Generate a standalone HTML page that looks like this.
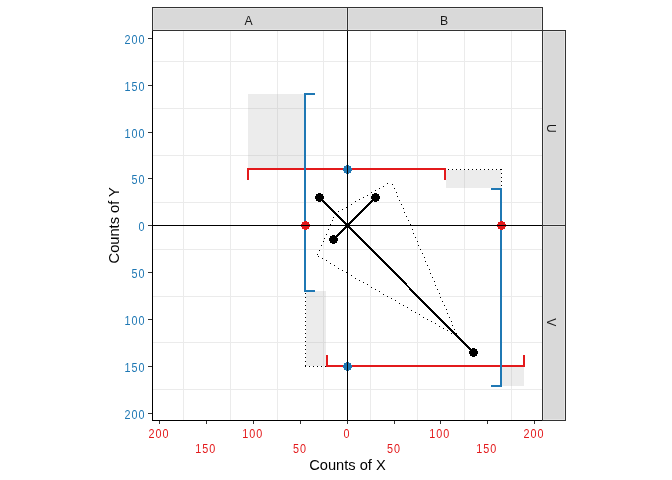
<!DOCTYPE html>
<html><head><meta charset="utf-8"><style>
html,body{margin:0;padding:0;background:#fff;width:672px;height:480px;overflow:hidden}
svg{display:block;will-change:transform;font-family:"Liberation Sans", sans-serif}
</style></head><body>
<svg width="672" height="480" viewBox="0 0 672 480" shape-rendering="crispEdges">
<rect width="672" height="480" fill="#fff"/>
<rect x="183" y="31" width="1" height="389" fill="#EBEBEB"/>
<rect x="230" y="31" width="1" height="389" fill="#EBEBEB"/>
<rect x="277" y="31" width="1" height="389" fill="#EBEBEB"/>
<rect x="323" y="31" width="1" height="389" fill="#EBEBEB"/>
<rect x="370" y="31" width="1" height="389" fill="#EBEBEB"/>
<rect x="417" y="31" width="1" height="389" fill="#EBEBEB"/>
<rect x="464" y="31" width="1" height="389" fill="#EBEBEB"/>
<rect x="511" y="31" width="1" height="389" fill="#EBEBEB"/>
<rect x="153" y="61" width="389" height="1" fill="#EBEBEB"/>
<rect x="153" y="108" width="389" height="1" fill="#EBEBEB"/>
<rect x="153" y="155" width="389" height="1" fill="#EBEBEB"/>
<rect x="153" y="202" width="389" height="1" fill="#EBEBEB"/>
<rect x="153" y="249" width="389" height="1" fill="#EBEBEB"/>
<rect x="153" y="296" width="389" height="1" fill="#EBEBEB"/>
<rect x="153" y="342" width="389" height="1" fill="#EBEBEB"/>
<rect x="153" y="389" width="389" height="1" fill="#EBEBEB"/>
<rect x="248" y="94" width="56" height="74" fill="rgba(160,160,160,0.2)"/>
<rect x="446" y="170" width="55" height="18" fill="rgba(160,160,160,0.2)"/>
<rect x="306" y="291" width="20" height="75" fill="rgba(160,160,160,0.2)"/>
<rect x="502" y="367" width="22" height="19" fill="rgba(160,160,160,0.2)"/>
<path d="M448 169h1v1h-1z M452 169h1v1h-1z M456 169h1v1h-1z M460 169h1v1h-1z M464 169h1v1h-1z M468 169h1v1h-1z M472 169h1v1h-1z M476 169h1v1h-1z M480 169h1v1h-1z M484 169h1v1h-1z M488 169h1v1h-1z M492 169h1v1h-1z M496 169h1v1h-1z M500 169h2v1h-2z M501 173h1v1h-1z M501 177h1v1h-1z M501 181h1v1h-1z M501 185h1v1h-1z M305 293h1v1h-1z M305 297h1v1h-1z M305 301h1v1h-1z M305 305h1v1h-1z M305 309h1v1h-1z M305 313h1v1h-1z M305 317h1v1h-1z M305 321h1v1h-1z M305 325h1v1h-1z M305 329h1v1h-1z M305 333h1v1h-1z M305 337h1v1h-1z M305 341h1v1h-1z M305 345h1v1h-1z M305 349h1v1h-1z M305 353h1v1h-1z M305 357h1v1h-1z M305 361h1v1h-1z M305 365h1v2h-1z M309 366h1v1h-1z M313 366h1v1h-1z M317 366h1v1h-1z M321 366h1v1h-1z M325 366h1v1h-1z" fill="#000"/>
<path d="M317 254h1v1h-1z M318 256h1v1h-1z M319 250h1v1h-1z M321 245h1v1h-1z M322 258h1v1h-1z M323 241h1v1h-1z M324 238h1v1h-1z M326 234h1v1h-1z M326 260h1v1h-1z M328 229h1v1h-1z M330 224h1v1h-1z M330 263h1v1h-1z M332 220h1v1h-1z M333 217h1v1h-1z M334 265h1v1h-1z M338 211h1v1h-1z M338 268h1v1h-1z M342 209h1v1h-1z M342 270h1v1h-1z M346 207h1v1h-1z M346 272h1v1h-1z M351 204h1v1h-1z M351 275h1v1h-1z M355 201h1v1h-1z M355 278h1v1h-1z M359 199h1v1h-1z M359 280h1v1h-1z M363 197h1v1h-1z M363 282h1v1h-1z M367 195h1v1h-1z M367 284h1v1h-1z M371 192h1v1h-1z M371 287h1v1h-1z M375 190h1v1h-1z M375 289h1v1h-1z M379 188h1v1h-1z M379 291h1v1h-1z M383 186h1v1h-1z M383 294h1v1h-1z M387 183h1v1h-1z M387 296h1v1h-1z M391 298h1v1h-1z M392 184h1v1h-1z M394 188h1v1h-1z M395 300h1v1h-1z M396 192h1v1h-1z M397 196h1v1h-1z M399 200h1v1h-1z M399 303h1v1h-1z M401 204h1v1h-1z M403 208h1v1h-1z M403 305h1v1h-1z M404 212h1v1h-1z M406 216h1v1h-1z M407 307h1v1h-1z M408 220h1v1h-1z M410 224h1v1h-1z M411 310h1v1h-1z M412 229h1v1h-1z M413 233h1v1h-1z M415 237h1v1h-1z M415 312h1v1h-1z M417 241h1v1h-1z M418 245h1v1h-1z M419 314h1v1h-1z M420 249h1v1h-1z M422 253h1v1h-1z M423 317h1v1h-1z M424 257h1v1h-1z M425 261h1v1h-1z M427 265h1v1h-1z M427 319h1v1h-1z M429 269h1v1h-1z M430 273h1v1h-1z M431 321h1v1h-1z M432 277h1v1h-1z M434 281h1v1h-1z M435 285h1v1h-1z M435 323h1v1h-1z M437 289h1v1h-1z M439 293h1v1h-1z M439 326h1v1h-1z M440 297h1v1h-1z M442 301h1v1h-1z M443 328h1v1h-1z M444 305h1v1h-1z M446 309h1v1h-1z M447 313h1v1h-1z M447 330h1v1h-1z M449 317h1v1h-1z M451 321h1v1h-1z M451 333h1v1h-1z M452 325h1v1h-1z M454 329h1v1h-1z M456 333h1v1h-1z" fill="#000"/>
<rect x="247" y="168" width="199" height="2" fill="#E31A1C"/>
<rect x="247" y="168" width="2" height="12" fill="#E31A1C"/>
<rect x="444" y="168" width="2" height="12" fill="#E31A1C"/>
<rect x="326" y="365" width="199" height="2" fill="#E31A1C"/>
<rect x="326" y="355" width="2" height="12" fill="#E31A1C"/>
<rect x="523" y="355" width="2" height="12" fill="#E31A1C"/>
<rect x="304" y="93" width="2" height="199" fill="#1F78B4"/>
<rect x="304" y="93" width="11" height="2" fill="#1F78B4"/>
<rect x="304" y="290" width="11" height="2" fill="#1F78B4"/>
<rect x="500" y="188" width="2" height="199" fill="#1F78B4"/>
<rect x="491" y="188" width="11" height="2" fill="#1F78B4"/>
<rect x="491" y="385" width="11" height="2" fill="#1F78B4"/>
<path d="M304 221h3v1h-3z M302 222h7v1h-7z M302 223h7v1h-7z M301 224h9v1h-9z M301 225h9v1h-9z M301 226h9v1h-9z M302 227h7v1h-7z M302 228h7v1h-7z M304 229h3v1h-3z" fill="#E31A1C"/>
<path d="M500 221h3v1h-3z M498 222h7v1h-7z M498 223h7v1h-7z M497 224h9v1h-9z M497 225h9v1h-9z M497 226h9v1h-9z M498 227h7v1h-7z M498 228h7v1h-7z M500 229h3v1h-3z" fill="#E31A1C"/>
<path d="M346 165h3v1h-3z M344 166h7v1h-7z M344 167h7v1h-7z M343 168h9v1h-9z M343 169h9v1h-9z M343 170h9v1h-9z M344 171h7v1h-7z M344 172h7v1h-7z M346 173h3v1h-3z" fill="#1F78B4"/>
<path d="M346 362h3v1h-3z M344 363h7v1h-7z M344 364h7v1h-7z M343 365h9v1h-9z M343 366h9v1h-9z M343 367h9v1h-9z M344 368h7v1h-7z M344 369h7v1h-7z M346 370h3v1h-3z" fill="#1F78B4"/>
<line x1="347.5" y1="225.5" x2="319.5" y2="197.5" stroke="#000" stroke-width="2.1" shape-rendering="crispEdges"/>
<line x1="347.5" y1="225.5" x2="375.5" y2="197.5" stroke="#000" stroke-width="2.1" shape-rendering="crispEdges"/>
<line x1="347.5" y1="225.5" x2="333.5" y2="239.5" stroke="#000" stroke-width="2.1" shape-rendering="crispEdges"/>
<line x1="347.5" y1="225.5" x2="473.5" y2="352.5" stroke="#000" stroke-width="2.1" shape-rendering="crispEdges"/>
<path d="M318 193h3v1h-3z M316 194h7v1h-7z M316 195h7v1h-7z M315 196h9v1h-9z M315 197h9v1h-9z M315 198h9v1h-9z M316 199h7v1h-7z M316 200h7v1h-7z M318 201h3v1h-3z" fill="#000"/>
<path d="M374 193h3v1h-3z M372 194h7v1h-7z M372 195h7v1h-7z M371 196h9v1h-9z M371 197h9v1h-9z M371 198h9v1h-9z M372 199h7v1h-7z M372 200h7v1h-7z M374 201h3v1h-3z" fill="#000"/>
<path d="M332 235h3v1h-3z M330 236h7v1h-7z M330 237h7v1h-7z M329 238h9v1h-9z M329 239h9v1h-9z M329 240h9v1h-9z M330 241h7v1h-7z M330 242h7v1h-7z M332 243h3v1h-3z" fill="#000"/>
<path d="M472 348h3v1h-3z M470 349h7v1h-7z M470 350h7v1h-7z M469 351h9v1h-9z M469 352h9v1h-9z M469 353h9v1h-9z M470 354h7v1h-7z M470 355h7v1h-7z M472 356h3v1h-3z" fill="#000"/>
<rect x="347" y="31" width="1" height="389" fill="#000"/>
<rect x="153" y="225" width="389" height="1" fill="#000"/>
<rect x="152" y="30" width="391" height="1" fill="#333333"/>
<rect x="542" y="30" width="1" height="391" fill="#333333"/>
<rect x="152" y="30" width="1" height="391" fill="#000"/>
<rect x="152" y="420" width="390" height="1" fill="#000"/>
<rect x="152" y="7" width="195" height="23" fill="#D9D9D9"/>
<rect x="153.5" y="8.5" width="193" height="21" fill="none" stroke="#E4E4E4" stroke-width="1"/>
<rect x="152" y="7" width="196" height="1" fill="#333333"/>
<rect x="152" y="30" width="196" height="1" fill="#333333"/>
<rect x="152" y="7" width="1" height="24" fill="#333333"/>
<rect x="347" y="7" width="1" height="24" fill="#333333"/>
<rect x="347" y="7" width="195" height="23" fill="#D9D9D9"/>
<rect x="348.5" y="8.5" width="193" height="21" fill="none" stroke="#E4E4E4" stroke-width="1"/>
<rect x="347" y="7" width="196" height="1" fill="#333333"/>
<rect x="347" y="30" width="196" height="1" fill="#333333"/>
<rect x="347" y="7" width="1" height="24" fill="#333333"/>
<rect x="542" y="7" width="1" height="24" fill="#333333"/>
<rect x="542" y="30" width="23" height="195" fill="#D9D9D9"/>
<rect x="543.5" y="31.5" width="21" height="193" fill="none" stroke="#E4E4E4" stroke-width="1"/>
<rect x="542" y="30" width="24" height="1" fill="#333333"/>
<rect x="542" y="225" width="24" height="1" fill="#333333"/>
<rect x="542" y="30" width="1" height="196" fill="#333333"/>
<rect x="565" y="30" width="1" height="196" fill="#333333"/>
<rect x="542" y="225" width="23" height="195" fill="#D9D9D9"/>
<rect x="543.5" y="226.5" width="21" height="193" fill="none" stroke="#E4E4E4" stroke-width="1"/>
<rect x="542" y="225" width="24" height="1" fill="#333333"/>
<rect x="542" y="420" width="24" height="1" fill="#333333"/>
<rect x="542" y="225" width="1" height="196" fill="#333333"/>
<rect x="565" y="225" width="1" height="196" fill="#333333"/>
<text x="248.6" y="24.9" font-size="12.2" fill="#1A1A1A" text-anchor="middle">A</text>
<text x="444.0" y="24.9" font-size="12.2" fill="#1A1A1A" text-anchor="middle">B</text>
<text transform="translate(547,128.5) rotate(90)" font-size="12.2" fill="#1A1A1A" text-anchor="middle">U</text>
<text transform="translate(547,322.3) rotate(90)" font-size="12.2" fill="#1A1A1A" text-anchor="middle">V</text>
<rect x="148" y="38" width="4" height="1" fill="#333333"/>
<text transform="translate(124.55,43.70) scale(0.9,1)" font-size="12" letter-spacing="1.106" fill="#1F78B4">200</text>
<rect x="148" y="85" width="4" height="1" fill="#333333"/>
<text transform="translate(124.55,90.70) scale(0.9,1)" font-size="12" letter-spacing="1.106" fill="#1F78B4">150</text>
<rect x="148" y="132" width="4" height="1" fill="#333333"/>
<text transform="translate(124.55,137.70) scale(0.9,1)" font-size="12" letter-spacing="1.106" fill="#1F78B4">100</text>
<rect x="148" y="178" width="4" height="1" fill="#333333"/>
<text transform="translate(131.55,183.70) scale(0.9,1)" font-size="12" letter-spacing="1.106" fill="#1F78B4">50</text>
<rect x="148" y="225" width="4" height="1" fill="#333333"/>
<text transform="translate(138.55,230.70) scale(0.9,1)" font-size="12" letter-spacing="1.106" fill="#1F78B4">0</text>
<rect x="148" y="272" width="4" height="1" fill="#333333"/>
<text transform="translate(131.55,277.70) scale(0.9,1)" font-size="12" letter-spacing="1.106" fill="#1F78B4">50</text>
<rect x="148" y="319" width="4" height="1" fill="#333333"/>
<text transform="translate(124.55,324.70) scale(0.9,1)" font-size="12" letter-spacing="1.106" fill="#1F78B4">100</text>
<rect x="148" y="366" width="4" height="1" fill="#333333"/>
<text transform="translate(124.55,371.70) scale(0.9,1)" font-size="12" letter-spacing="1.106" fill="#1F78B4">150</text>
<rect x="148" y="413" width="4" height="1" fill="#333333"/>
<text transform="translate(124.55,418.70) scale(0.9,1)" font-size="12" letter-spacing="1.106" fill="#1F78B4">200</text>
<rect x="159" y="421" width="1" height="3" fill="#333333"/>
<text transform="translate(148.44,437.80) scale(0.9,1)" font-size="12" letter-spacing="1.106" fill="#E31A1C">200</text>
<rect x="206" y="421" width="1" height="3" fill="#333333"/>
<text transform="translate(195.22,453.00) scale(0.9,1)" font-size="12" letter-spacing="1.106" fill="#E31A1C">150</text>
<rect x="253" y="421" width="1" height="3" fill="#333333"/>
<text transform="translate(242.22,437.80) scale(0.9,1)" font-size="12" letter-spacing="1.106" fill="#E31A1C">100</text>
<rect x="300" y="421" width="1" height="3" fill="#333333"/>
<text transform="translate(292.89,453.00) scale(0.9,1)" font-size="12" letter-spacing="1.106" fill="#E31A1C">50</text>
<rect x="347" y="421" width="1" height="3" fill="#333333"/>
<text transform="translate(343.50,437.80) scale(0.9,1)" font-size="12" letter-spacing="1.106" fill="#E31A1C">0</text>
<rect x="394" y="421" width="1" height="3" fill="#333333"/>
<text transform="translate(386.89,453.00) scale(0.9,1)" font-size="12" letter-spacing="1.106" fill="#E31A1C">50</text>
<rect x="440" y="421" width="1" height="3" fill="#333333"/>
<text transform="translate(429.23,437.80) scale(0.9,1)" font-size="12" letter-spacing="1.106" fill="#E31A1C">100</text>
<rect x="487" y="421" width="1" height="3" fill="#333333"/>
<text transform="translate(476.23,453.00) scale(0.9,1)" font-size="12" letter-spacing="1.106" fill="#E31A1C">150</text>
<rect x="534" y="421" width="1" height="3" fill="#333333"/>
<text transform="translate(523.45,437.80) scale(0.9,1)" font-size="12" letter-spacing="1.106" fill="#E31A1C">200</text>
<text x="347.5" y="470.2" font-size="14.67" fill="#000" text-anchor="middle">Counts of X</text>
<text transform="translate(119.1,225.3) rotate(-90)" font-size="14.67" fill="#000" text-anchor="middle">Counts of Y</text>
</svg></body></html>
